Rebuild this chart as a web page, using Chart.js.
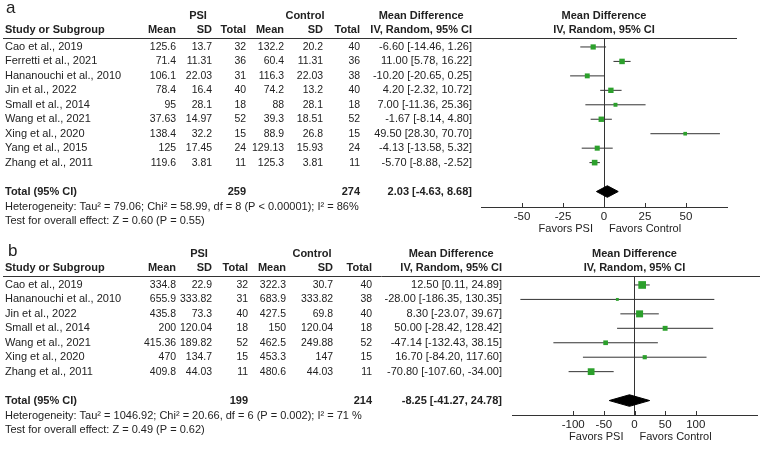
<!DOCTYPE html>
<html>
<head>
<meta charset="utf-8">
<script src="https://cdn.jsdelivr.net/npm/chart.js@4.4.1/dist/chart.umd.min.js"></script>
<style>
  html, body { margin: 0; padding: 0; background: #fff; }
  #wrap { position: relative; width: 765px; height: 451px; }
  canvas { position: absolute; left: 0; }
  #forest-a { top: 0; }
  #forest-b { top: 238px; }
</style>
</head>
<body>
<div id="wrap">
  <canvas id="forest-a" width="765" height="238"></canvas>
  <canvas id="forest-b" width="765" height="213"></canvas>
</div>
<script>
// ---- panel a ----
const studiesA = ['Cao et al., 2019', 'Ferretti et al., 2021', 'Hananouchi et al., 2010', 'Jin et al., 2022',
  'Small et al., 2014', 'Wang et al., 2021', 'Xing et al., 2020', 'Yang et al., 2015', 'Zhang et al., 2011'];
const psiMeanA = [125.6, 71.4, 106.1, 78.4, 95, 37.63, 138.4, 125, 119.6];
const psiSdA = [13.7, 11.31, 22.03, 16.4, 28.1, 14.97, 32.2, 17.45, 3.81];
const psiNA = [32, 36, 31, 40, 18, 52, 15, 24, 11];
const ctrlMeanA = [132.2, 60.4, 116.3, 74.2, 88, 39.3, 88.9, 129.13, 125.3];
const ctrlSdA = [20.2, 11.31, 22.03, 13.2, 28.1, 18.51, 26.8, 15.93, 3.81];
const ctrlNA = [40, 36, 38, 40, 18, 52, 15, 24, 11];
const mdA = [-6.60, 11.00, -10.20, 4.20, 7.00, -1.67, 49.50, -4.13, -5.70];
const loA = [-14.46, 5.78, -20.65, -2.32, -11.36, -8.14, 28.30, -13.58, -8.88];
const hiA = [1.26, 16.22, 0.25, 10.72, 25.36, 4.80, 70.70, 5.32, -2.52];
const weightA = [12.1, 13.4, 10.7, 12.8, 6.9, 12.8, 5.9, 11.3, 14.1]; // % weight, judged from box sizes
const totalNA = [259, 274];
const pooledA = [2.03, -4.63, 8.68];
const hetA = 'Heterogeneity: Tau² = 79.06; Chi² = 58.99, df = 8 (P < 0.00001); I² = 86%';
const testA = 'Test for overall effect: Z = 0.60 (P = 0.55)';
const ticksA = [-50, -25, 0, 25, 50];

// ---- panel b ----
const studiesB = ['Cao et al., 2019', 'Hananouchi et al., 2010', 'Jin et al., 2022', 'Small et al., 2014',
  'Wang et al., 2021', 'Xing et al., 2020', 'Zhang et al., 2011'];
const psiMeanB = [334.8, 655.9, 435.8, 200, 415.36, 470, 409.8];
const psiSdB = [22.9, 333.82, 73.3, 120.04, 189.82, 134.7, 44.03];
const psiNB = [32, 31, 40, 18, 52, 15, 11];
const ctrlMeanB = [322.3, 683.9, 427.5, 150, 462.5, 453.3, 480.6];
const ctrlSdB = [30.7, 333.82, 69.8, 120.04, 249.88, 147, 44.03];
const ctrlNB = [40, 38, 40, 18, 52, 15, 11];
const mdB = [12.50, -28.00, 8.30, 50.00, -47.14, 16.70, -70.80];
const loB = [0.11, -186.35, -23.07, -28.42, -132.43, -84.20, -107.60];
const hiB = [24.89, 130.35, 39.67, 128.42, 38.15, 117.60, -34.00];
const weightB = [26.1, 3.7, 21.8, 10.7, 9.7, 7.7, 20.3];
const totalNB = [199, 214];
const pooledB = [-8.25, -41.27, 24.78];
const hetB = 'Heterogeneity: Tau² = 1046.92; Chi² = 20.66, df = 6 (P = 0.002); I² = 71 %';
const testB = 'Test for overall effect: Z = 0.49 (P = 0.62)';
const ticksB = [-100, -50, 0, 50, 100];

const FAMILY = '"Liberation Sans", Arial, sans-serif';
const REG = '11px ' + FAMILY;
const BOLD = 'bold 11px ' + FAMILY;
const INK = '#222';
const GREEN = '#2ca02c';

const fmt = v => v.toFixed(2);

function makeTablePlugin(p) {
  return {
    id: 'forestTable',
    afterDraw(chart) {
      const { ctx, chartArea } = chart;
      const x = chart.scales.x, y = chart.scales.y;
      const top = Math.round(chartArea.top), bottom = chartArea.bottom;
      const zero = x.getPixelForValue(0);
      const text = (s, px, py, align, font, squeeze) => {
        ctx.font = font;
        ctx.textAlign = align;
        if (squeeze) ctx.fillText(s, px, py, ctx.measureText(s).width * squeeze);
        else ctx.fillText(s, px, py);
      };
      ctx.save();
      ctx.fillStyle = INK;
      ctx.textBaseline = 'middle';

      text(p.letter, p.letterX, p.letterY, 'left', '17px ' + FAMILY);

      // column headers
      const h1 = top - 22, h2 = top - 8;
      ctx.font = BOLD;
      const ivW = ctx.measureText('IV, Random, 95% CI').width;
      text('PSI', p.psiX, h1, 'center', BOLD);
      text('Control', p.ctrlX, h1, 'center', BOLD);
      text('Mean Difference', p.mdRight - ivW / 2, h1, 'center', BOLD);
      text('Mean Difference', zero, h1, 'center', BOLD);
      text('Study or Subgroup', 5, h2, 'left', BOLD);
      ['Mean', 'SD', 'Total', 'Mean', 'SD', 'Total'].forEach((s, k) => text(s, p.cols[k], h2, 'right', BOLD));
      text('IV, Random, 95% CI', p.mdRight, h2, 'right', BOLD);
      text('IV, Random, 95% CI', zero, h2, 'center', BOLD);

      ctx.strokeStyle = '#333';
      ctx.lineWidth = 1;
      ctx.beginPath();
      ctx.moveTo(3, top + 0.5);
      ctx.lineTo(p.ruleEnd, top + 0.5);
      ctx.stroke();

      // study rows
      p.studies.forEach((s, i) => {
        const py = y.getPixelForValue(i);
        text(s, 5, py, 'left', REG);
        [p.psiMean[i], p.psiSd[i], p.psiN[i], p.ctrlMean[i], p.ctrlSd[i], p.ctrlN[i]]
          .forEach((v, k) => text(String(v), p.cols[k], py, 'right', REG, 0.95));
        text(`${fmt(p.md[i])} [${fmt(p.lo[i])}, ${fmt(p.hi[i])}]`, p.mdRight, py, 'right', REG);
      });

      // total + footer
      const ty = y.getPixelForValue(p.totalRow);
      text('Total (95% CI)', 5, ty, 'left', BOLD);
      text(String(p.totalN[0]), p.cols[2], ty, 'right', BOLD);
      text(String(p.totalN[1]), p.cols[5], ty, 'right', BOLD);
      text(`${fmt(p.pooled[0])} [${fmt(p.pooled[1])}, ${fmt(p.pooled[2])}]`, p.mdRight, ty, 'right', BOLD);
      text(p.het, 5, ty + 15.5, 'left', REG);
      text(p.test, 5, ty + 29, 'left', REG);

      // little tick marks sitting on top of the axis
      x.ticks.forEach(t => {
        const px = Math.round(x.getPixelForValue(t.value)) + 0.5;
        ctx.beginPath();
        ctx.moveTo(px, bottom - 4);
        ctx.lineTo(px, bottom);
        ctx.stroke();
      });

      text('Favors PSI', zero - 11, bottom + 22, 'right', REG);
      text('Favors Control', zero + 5, bottom + 22, 'left', REG);
      ctx.restore();
    }
  };
}

function drawForest(canvasId, p) {
  const half = 0.4;
  const datasets = [
    {
      type: 'scatter',
      data: p.md.map((v, i) => ({ x: v, y: i })),
      pointStyle: 'rect',
      pointRadius: p.weight.map(w => 1.5 * Math.sqrt(w) / Math.SQRT2),
      backgroundColor: GREEN,
      borderWidth: 0,
      order: 0
    },
    ...p.md.map((v, i) => ({
      type: 'line',
      data: [{ x: p.lo[i], y: i }, { x: p.hi[i], y: i }],
      borderColor: '#333',
      borderWidth: 1,
      pointRadius: 0,
      fill: false,
      order: 1
    })),
    {
      type: 'line',
      data: [{ x: p.pooled[1], y: p.totalRow }, { x: p.pooled[0], y: p.totalRow - half }, { x: p.pooled[2], y: p.totalRow }],
      borderColor: '#000',
      borderWidth: 1,
      pointRadius: 0,
      fill: false,
      order: 2
    },
    {
      type: 'line',
      data: [{ x: p.pooled[1], y: p.totalRow }, { x: p.pooled[0], y: p.totalRow + half }, { x: p.pooled[2], y: p.totalRow }],
      borderColor: '#000',
      backgroundColor: '#000',
      borderWidth: 1,
      pointRadius: 0,
      fill: '-1',
      order: 2
    }
  ];

  new Chart(document.getElementById(canvasId), {
    type: 'scatter',
    data: { datasets },
    options: {
      responsive: false,
      animation: false,
      layout: { padding: { left: p.plotLeft, right: p.plotRight, top: 38, bottom: 0 } },
      plugins: { legend: { display: false }, tooltip: { enabled: false } },
      scales: {
        x: {
          type: 'linear',
          min: -p.range,
          max: p.range,
          afterBuildTicks: s => { s.ticks = p.ticks.map(v => ({ value: v })); },
          afterFit: s => { s.height = p.axisSpace; },
          grid: {
            drawTicks: false,
            lineWidth: 1,
            color: c => (c.tick && c.tick.value === 0 ? '#333' : 'rgba(0,0,0,0)')
          },
          border: { display: true, color: '#333', width: 1 },
          ticks: { color: INK, padding: 3, autoSkip: false, maxRotation: 0, font: { family: FAMILY, size: 11.5 } }
        },
        y: { type: 'linear', display: false, reverse: true, min: -0.62, max: p.axisRow }
      }
    },
    plugins: [makeTablePlugin(p)]
  });
}

drawForest('forest-a', {
  letter: 'a', letterX: 6, letterY: 8,
  studies: studiesA, psiMean: psiMeanA, psiSd: psiSdA, psiN: psiNA,
  ctrlMean: ctrlMeanA, ctrlSd: ctrlSdA, ctrlN: ctrlNA,
  md: mdA, lo: loA, hi: hiA, weight: weightA, totalN: totalNA, pooled: pooledA,
  het: hetA, test: testA, ticks: ticksA,
  totalRow: 10, axisRow: 11.07, axisSpace: 31, range: 75,
  plotLeft: 481, plotRight: 38, ruleEnd: 737,
  psiX: 198, ctrlX: 305, cols: [176, 212, 246, 284, 323, 360], mdRight: 472
});

drawForest('forest-b', {
  letter: 'b', letterX: 8, letterY: 13,
  studies: studiesB, psiMean: psiMeanB, psiSd: psiSdB, psiN: psiNB,
  ctrlMean: ctrlMeanB, ctrlSd: ctrlSdB, ctrlN: ctrlNB,
  md: mdB, lo: loB, hi: hiB, weight: weightB, totalN: totalNB, pooled: pooledB,
  het: hetB, test: testB, ticks: ticksB,
  totalRow: 8, axisRow: 9.0, axisSpace: 36, range: 200,
  plotLeft: 512, plotRight: 8, ruleEnd: 760,
  psiX: 199, ctrlX: 312, cols: [176, 212, 248, 286, 333, 372], mdRight: 502
});
</script>
</body>
</html>
